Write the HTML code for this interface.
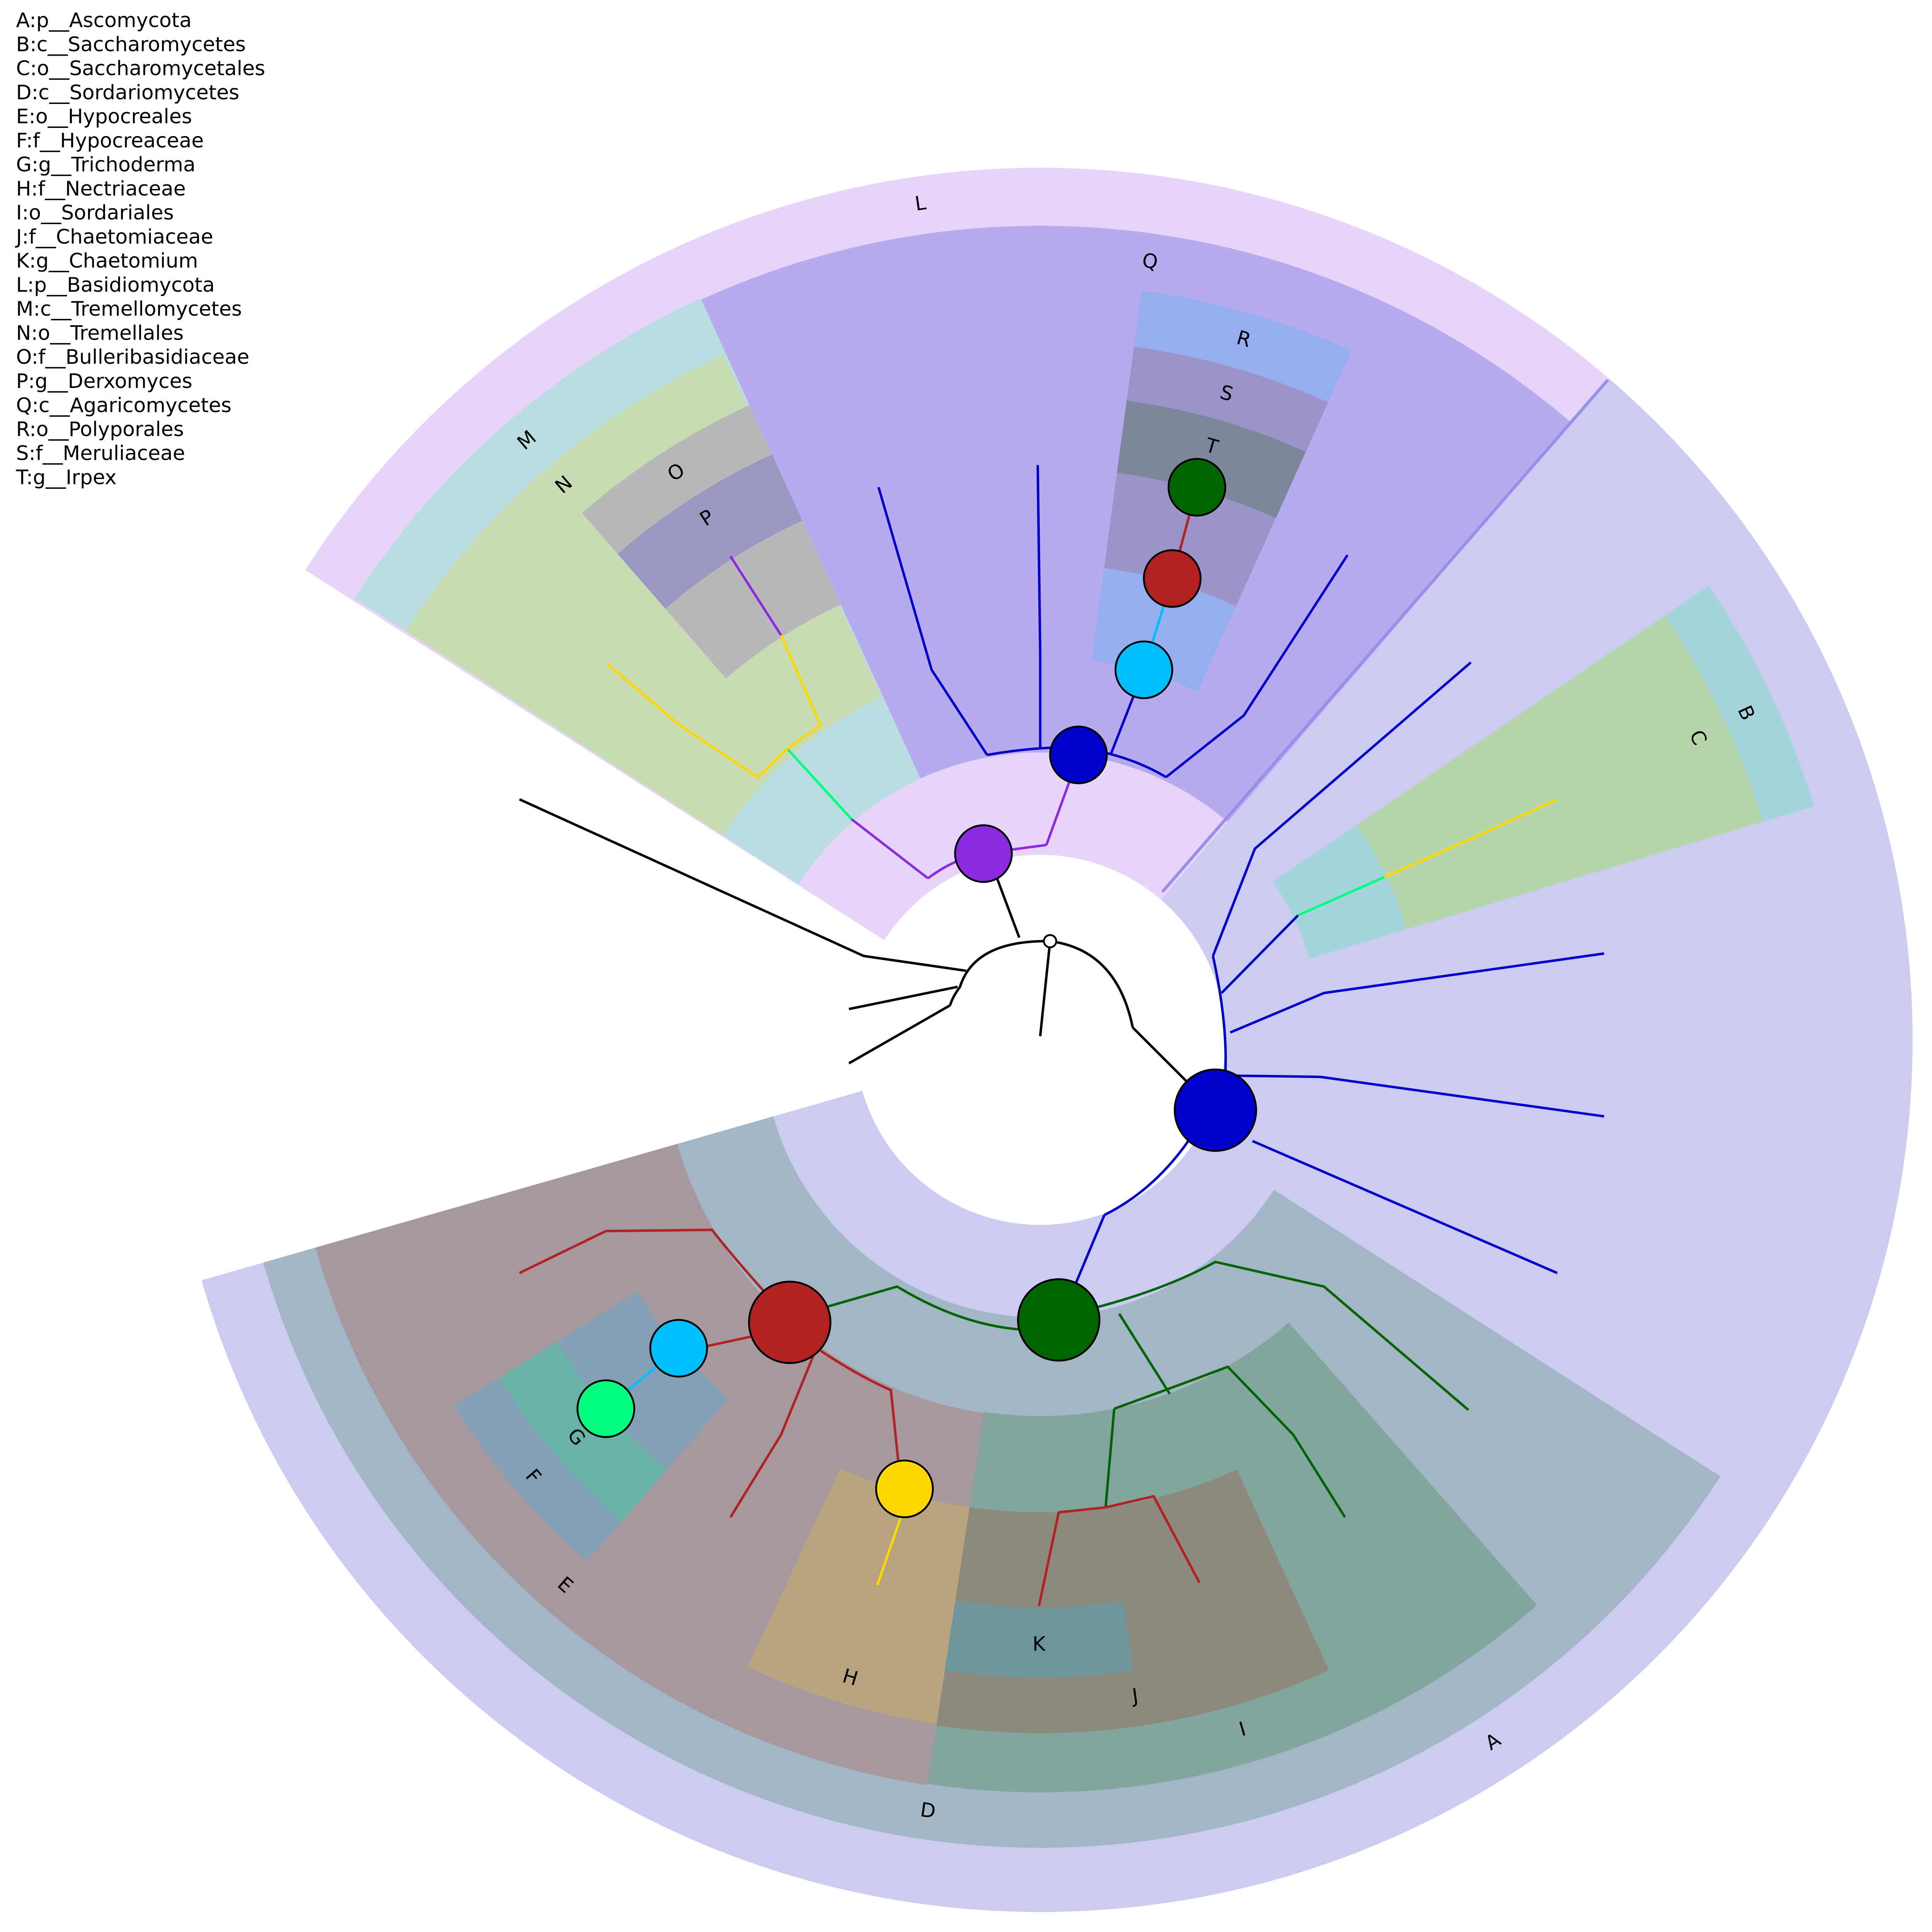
<!DOCTYPE html>
<html><head><meta charset="utf-8"><style>
html,body{margin:0;padding:0;background:#fff;overflow:hidden;width:5135px;height:5111px;}
svg{display:block;}
text{font-family:"DejaVu Sans","Liberation Sans",sans-serif;}
</style></head><body>
<svg id="s" xmlns="http://www.w3.org/2000/svg" width="5135" height="5111" viewBox="0 0 1608 1601" preserveAspectRatio="none">
<g id="sec"></g>
<line x1="942" y1="723" x2="1303" y2="308" stroke="#9b8ee8" stroke-width="2.5"/>
<g id="lab" font-size="16" fill="#000"></g>
<g fill="none" stroke-width="2" stroke-linejoin="round">
<path d="M851,763 Q790,762 778,800 Q772,808 770,815" stroke="#000"/>
<path d="M851,763 Q905,770 918,833" stroke="#000"/>
<path d="M851,763 L843,840" stroke="#000"/>
<path d="M826,760 L808,712" stroke="#000"/>
<path d="M783,787 L700,775 L421,648" stroke="#000"/>
<path d="M776,800 L688,818" stroke="#000"/>
<path d="M770,815 L688,862" stroke="#000"/>
<path d="M918,833 L965,880" stroke="#000"/>
<path d="M963,925 Q935,965 895,985" stroke="#0000cd"/>
<path d="M993,870 Q995,830 983,775" stroke="#0000cd"/>
<path d="M983,775 L1017,688 L1192,537" stroke="#0000cd"/>
<path d="M990,805 L1052,742" stroke="#0000cd"/>
<path d="M997,837 L1073,805 L1300,773" stroke="#0000cd"/>
<path d="M998,872 L1070,873 L1300,905" stroke="#0000cd"/>
<path d="M1015,925 L1262,1032" stroke="#0000cd"/>
<path d="M895,985 L872,1040" stroke="#0000cd"/>
<path d="M1052,742 L1122,711" stroke="#00ff7f"/>
<path d="M1122,711 L1192,680 L1262,648" stroke="#ffd700"/>
<path d="M668,1060 L727,1043 Q780,1075 830,1078" stroke="#006400"/>
<path d="M888,1060 Q945,1045 985,1023 L1073,1043 L1190,1143" stroke="#006400"/>
<path d="M907,1065 L948,1130" stroke="#006400"/>
<path d="M903,1142 Q950,1125 995,1108 L1048,1163 L1090,1230" stroke="#006400"/>
<path d="M903,1142 L896,1222" stroke="#006400"/>
<path d="M896,1222 L858,1226 L842,1302" stroke="#b22222"/>
<path d="M896,1222 L935,1213 L972,1283" stroke="#b22222"/>
<path d="M622,1050 Q595,1020 577,997 L491,998 L421,1032" stroke="#b22222"/>
<path d="M625,1080 L565,1093" stroke="#b22222"/>
<path d="M660,1097 L633,1163 L592,1230" stroke="#b22222"/>
<path d="M665,1095 Q695,1115 722,1127 L728,1185" stroke="#b22222"/>
<path d="M550,1093 L491,1142" stroke="#00bfff"/>
<path d="M730,1230 L711,1285" stroke="#ffd700"/>
<path d="M752,712 Q775,695 797,692 Q825,688 848,685" stroke="#8a2be2"/>
<path d="M752,712 L690,664" stroke="#8a2be2"/>
<path d="M690,664 L638,607" stroke="#00ff7f"/>
<path d="M638,607 L614,630 L551,588 L492,538" stroke="#ffd700"/>
<path d="M638,607 L665,588 L633,515" stroke="#ffd700"/>
<path d="M633,515 L592,451" stroke="#8a2be2"/>
<path d="M848,685 L868,630" stroke="#8a2be2"/>
<path d="M800,612 Q840,605 874,606 Q915,612 945,630" stroke="#0000cd"/>
<path d="M800,612 L755,543 L712,395" stroke="#0000cd"/>
<path d="M843,606 L843,530 L841,377" stroke="#0000cd"/>
<path d="M945,630 L1008,580 L1092,450" stroke="#0000cd"/>
<path d="M900,612 L927,543" stroke="#0000cd"/>
<path d="M927,543 L950,469" stroke="#00bfff"/>
<path d="M950,469 L970,395" stroke="#b22222"/>
</g>
<g stroke="#000" stroke-width="1.5">
<circle cx="851" cy="763" r="5" fill="#fff"/>
<circle cx="985" cy="900" r="33" fill="#0000cd"/>
<circle cx="858" cy="1070" r="33" fill="#006400"/>
<circle cx="640" cy="1072" r="33" fill="#b22222"/>
<circle cx="550" cy="1093" r="23" fill="#00bfff"/>
<circle cx="491" cy="1142" r="23" fill="#00ff7f"/>
<circle cx="733" cy="1207" r="23" fill="#ffd700"/>
<circle cx="797" cy="692" r="23" fill="#8a2be2"/>
<circle cx="874" cy="612" r="23" fill="#0000cd"/>
<circle cx="927" cy="543" r="23" fill="#00bfff"/>
<circle cx="950" cy="469" r="23" fill="#b22222"/>
<circle cx="970" cy="395" r="23" fill="#006400"/>
</g>
<g font-size="16.3" fill="#000">
<text x="13" y="22">A:p__Ascomycota</text>
<text x="13" y="41.5">B:c__Saccharomycetes</text>
<text x="13" y="61">C:o__Saccharomycetales</text>
<text x="13" y="80.5">D:c__Sordariomycetes</text>
<text x="13" y="100">E:o__Hypocreales</text>
<text x="13" y="119.5">F:f__Hypocreaceae</text>
<text x="13" y="139">G:g__Trichoderma</text>
<text x="13" y="158.5">H:f__Nectriaceae</text>
<text x="13" y="178">I:o__Sordariales</text>
<text x="13" y="197.5">J:f__Chaetomiaceae</text>
<text x="13" y="217">K:g__Chaetomium</text>
<text x="13" y="236.5">L:p__Basidiomycota</text>
<text x="13" y="256">M:c__Tremellomycetes</text>
<text x="13" y="275.5">N:o__Tremellales</text>
<text x="13" y="295">O:f__Bulleribasidiaceae</text>
<text x="13" y="314.5">P:g__Derxomyces</text>
<text x="13" y="334">Q:c__Agaricomycetes</text>
<text x="13" y="353.5">R:o__Polyporales</text>
<text x="13" y="373">S:f__Meruliaceae</text>
<text x="13" y="392.5">T:g__Irpex</text>
</g>
</svg>
<script>
var cx=843,cy=843,NS="http://www.w3.org/2000/svg";
function P(r,a){a=a*Math.PI/180;return (cx+r*Math.cos(a)).toFixed(2)+","+(cy+r*Math.sin(a)).toFixed(2);}
function sec(a1,a2,r1,r2,col){
 var lg=(a2-a1)>180?1:0;
 var d="M"+P(r2,a1)+" A"+r2+","+r2+" 0 "+lg+" 1 "+P(r2,a2)+" L"+P(r1,a2)+" A"+r1+","+r1+" 0 "+lg+" 0 "+P(r1,a1)+" Z";
 var p=document.createElementNS(NS,"path");p.setAttribute("d",d);p.setAttribute("fill",col);
 document.getElementById("sec").appendChild(p);
}
var S=[
[-49.3,164,150,707,"#cccbf2"],
[32.7,164,225,655,"#a3b6c6"],
[98.6,164,306,611,"#a5989f"],
[48.7,98.6,305,610,"#82a59e"],
[98.6,115,383,561,"#b8a580"],
[65.4,98.6,383,562,"#8d8a7d"],
[81.6,98.6,460,517,"#6e9599"],
[131,148,385,560,"#84a0b4"],
[131,148,462,517,"#67b3a8"],
[-34.2,-16.8,228,655,"#a4d5dc"],
[-34.2,-16.8,310,612,"#b5d6ad"],
[-147.4,-49.3,150,707,"#e6d5f8"],
[-147.2,-114.6,233,661,"#b9dde1"],
[-114.6,-49.3,233,660,"#b8aaee"],
[-147.2,-114.8,306,612,"#c8dcb3"],
[-131,-114.6,388,566,"#bab7bb"],
[-131,-114.6,463,522,"#9a97c3"],
[-82.3,-65.7,310,613,"#95aef0"],
[-82.3,-65.7,386,567,"#9c94c8"],
[-82.3,-65.7,464,523,"#7d879b"]
];
S.forEach(function(s){sec(s[0],s[1],s[2],s[3],s[4]);});
var L=[["A",1210,1412],["B",1415,578],["C",1376,598],["D",752,1468],["E",458,1285],["F",432,1197],["G",467,1165],["H",689,1360],["I",1007,1402],["J",920,1375],["K",842,1333],["L",746,165],["M",427,357],["N",457,393],["O",548,383],["P",573,420],["Q",932,212],["R",1008,275],["S",994,319],["T",982,362]];
L.forEach(function(l){
 var a=Math.atan2(l[2]-cy,l[1]-cx)*180/Math.PI+90;
 while(a>90)a-=180; while(a<-90)a+=180;
 var t=document.createElementNS(NS,"text");
 t.setAttribute("x",l[1]);t.setAttribute("y",l[2]);t.setAttribute("text-anchor","middle");t.setAttribute("dominant-baseline","central");
 t.setAttribute("transform","rotate("+a.toFixed(1)+" "+l[1]+" "+l[2]+")");
 t.textContent=l[0];document.getElementById("lab").appendChild(t);
});
</script>
</body></html>
